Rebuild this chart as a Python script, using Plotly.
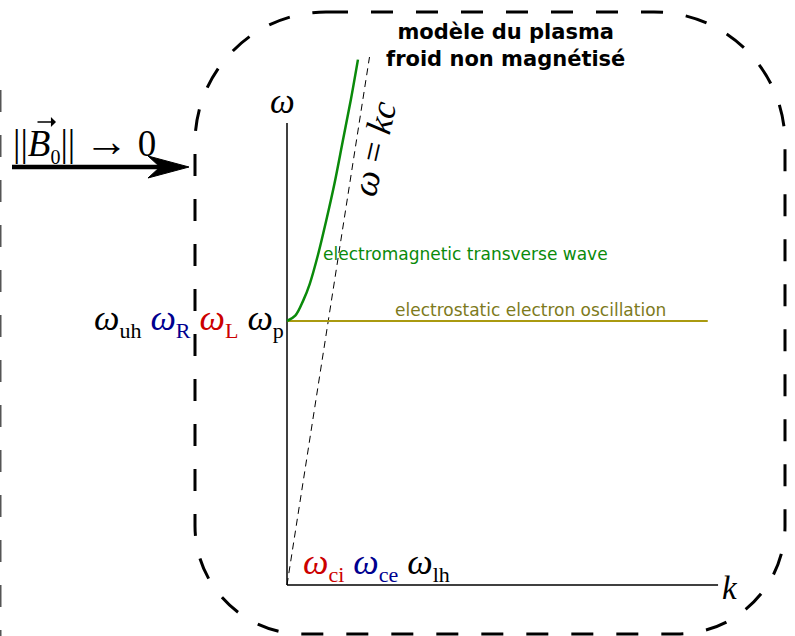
import plotly.graph_objects as go

# ---------------- data (units: omega_p = 1, c = 1) ----------------
omega_p = 1.0
k_em = [0.0, 0.2, 0.4, 0.55, 0.75, 0.95, 1.15, 1.35, 1.55, 1.72]
w_em = [1.0, 1.02, 1.08, 1.14, 1.25, 1.38, 1.52, 1.68, 1.84, 1.99]
k_light = [0.0, 2.0]
w_light = [0.0, 2.0]
k_es = [0.0, 10.2]
w_es = [omega_p, omega_p]
k_axis = [0.0, 10.45]
w_axis = [0.0, 1.75]

left_labels = ["uh", "R", "L", "p"]
left_colors = ["#000000", "#00008f", "#cc0000", "#000000"]
bottom_labels = ["ci", "ce", "lh"]
bottom_colors = ["#cc0000", "#00008f", "#000000"]

W, H = 795, 636
XS, YS = 41.25, 264.0      # pixels per unit
X0, Y0 = 287, 585          # origin in pixels

def paper(px, py):
    return px / W, 1 - py / H

MATH = "Liberation Serif"
SANS = "DejaVu Sans"

fig = go.Figure()

# axes of the diagram
fig.add_trace(go.Scatter(x=k_axis, y=[0, 0], mode="lines",
                         line=dict(color="black", width=1.5), hoverinfo="skip"))
fig.add_trace(go.Scatter(x=[0, 0], y=w_axis, mode="lines",
                         line=dict(color="black", width=1.5), hoverinfo="skip"))
# light line
fig.add_trace(go.Scatter(x=k_light, y=w_light, mode="lines",
                         line=dict(color="black", width=1, dash="7px,5px"), hoverinfo="skip"))
# electrostatic oscillation
fig.add_trace(go.Scatter(x=k_es, y=w_es, mode="lines",
                         line=dict(color="#aa9a10", width=2), hoverinfo="skip"))
# EM transverse wave
fig.add_trace(go.Scatter(x=k_em, y=w_em, mode="lines", line_shape="spline",
                         line=dict(color="#0a8a0a", width=2.5), hoverinfo="skip"))

ann = []

def w_sub(sub, color, subsize=22):
    return (f"<span style='color:{color}'><i>ω</i>"
            f"<sub><span style='font-size:{subsize}px'>{sub}</span></sub></span>")

ann.append(dict(x=0, y=w_axis[1], xref="x", yref="y", text="<i>ω</i>",
                showarrow=False, xanchor="center", yanchor="bottom", xshift=-5, yshift=0,
                font=dict(family=MATH, size=35, color="black")))
ann.append(dict(x=k_axis[1], y=0, xref="x", yref="y", text="<i>k</i>",
                showarrow=False, xanchor="left", yanchor="middle", xshift=2, yshift=-3,
                font=dict(family=MATH, size=33, color="black")))
ann.append(dict(x=0, y=omega_p, xref="x", yref="y",
                text=" ".join(w_sub(s, c) for s, c in zip(left_labels, left_colors)),
                showarrow=False, xanchor="right", yanchor="middle", xshift=-1, yshift=1,
                font=dict(family=MATH, size=36, color="black")))
ann.append(dict(x=0, y=0, xref="x", yref="y",
                text=" ".join(w_sub(s, c) for s, c in zip(bottom_labels, bottom_colors)),
                showarrow=False, xanchor="left", yanchor="bottom", xshift=14, yshift=-4,
                font=dict(family=MATH, size=36, color="black")))
ann.append(dict(x=2.12, y=1.655, xref="x", yref="y", text="<i>ω</i> = <i>kc</i>",
                showarrow=False, textangle=-77,
                font=dict(family=MATH, size=36, color="black")))
ann.append(dict(x=0.82, y=1.254, xref="x", yref="y", text="electromagnetic transverse wave",
                showarrow=False, xanchor="left", yanchor="middle",
                font=dict(family=SANS, size=17, color="#0a8a0a")))
ann.append(dict(x=2.57, y=omega_p, xref="x", yref="y", text="electrostatic electron oscillation",
                showarrow=False, xanchor="left", yanchor="bottom", yshift=-1,
                font=dict(family=SANS, size=17, color="#7d7a1c")))

tx, ty = paper(505, 45)
ann.append(dict(x=tx, y=ty, xref="paper", yref="paper",
                text="<b>modèle du plasma<br>froid non magnétisé</b>",
                showarrow=False, xanchor="center", yanchor="middle",
                font=dict(family=SANS, size=21, color="black")))

bx, by = paper(11, 142)
ann.append(dict(x=bx, y=by, xref="paper", yref="paper",
                text="||<i>B</i><sub><span style='font-size:20px'>0</span></sub>|| <span style='font-size:44px'>→</span> 0",
                showarrow=False, xanchor="left", yanchor="middle",
                font=dict(family=MATH, size=37, color="black")))

# small vector arrow above B
vx, vy = paper(56, 122)
ann.append(dict(x=vx, y=vy, xref="paper", yref="paper", text="",
                showarrow=True, ax=-20, ay=0, axref="pixel", ayref="pixel",
                arrowhead=1, arrowsize=1.3, arrowwidth=1.3, arrowcolor="black"))

# -------- dashed rounded frame --------
L, R, T, B = 195, 785, 12, 634
rt, rb = 131, 108
kk = 0.5523

def pt(px, py):
    x, y = paper(px, py)
    return f"{x:.5f},{y:.5f}"

path = (
    f"M {pt(L + rt, T)} L {pt(R - rt, T)} "
    f"C {pt(R - rt + kk * rt, T)} {pt(R, T + rt - kk * rt)} {pt(R, T + rt)} "
    f"L {pt(R, B - rb)} "
    f"C {pt(R, B - rb + kk * rb)} {pt(R - rb + kk * rb, B)} {pt(R - rb, B)} "
    f"L {pt(L + rb, B)} "
    f"C {pt(L + rb - kk * rb, B)} {pt(L, B - rb + kk * rb)} {pt(L, B - rb)} "
    f"L {pt(L, T + rt)} "
    f"C {pt(L, T + rt - kk * rt)} {pt(L + rt - kk * rt, T)} {pt(L + rt, T)} Z"
)

# big arrow (shaft + slender stealth head)
head = (f"M {pt(189, 167)} L {pt(148, 156)} L {pt(160, 167)} "
        f"L {pt(148, 178)} Z")
sx0, sy0 = paper(12, 167)
sx1, sy1 = paper(162, 167)

shapes = [
    dict(type="path", xref="paper", yref="paper", path=path,
         line=dict(color="black", width=3, dash="22px,23px")),
    dict(type="line", xref="paper", yref="paper",
         x0=0.5 / W, x1=0.5 / W, y0=1 - 90 / H, y1=0,
         line=dict(color="#555555", width=2, dash="22px,23px")),
    dict(type="line", xref="paper", yref="paper", x0=sx0, y0=sy0, x1=sx1, y1=sy1,
         line=dict(color="black", width=4.5)),
    dict(type="path", xref="paper", yref="paper", path=head,
         fillcolor="black", line=dict(color="black", width=1)),
]

fig.update_layout(
    width=W, height=H,
    margin=dict(l=0, r=0, t=0, b=0),
    paper_bgcolor="white", plot_bgcolor="white",
    showlegend=False,
    xaxis=dict(visible=False, range=[-X0 / XS, (W - X0) / XS], fixedrange=True),
    yaxis=dict(visible=False, range=[-(H - Y0) / YS, Y0 / YS], fixedrange=True),
    annotations=ann,
    shapes=shapes,
)

fig.write_html("out.html", config=dict(displayModeBar=False),
               post_script="document.body.style.margin='0';")
